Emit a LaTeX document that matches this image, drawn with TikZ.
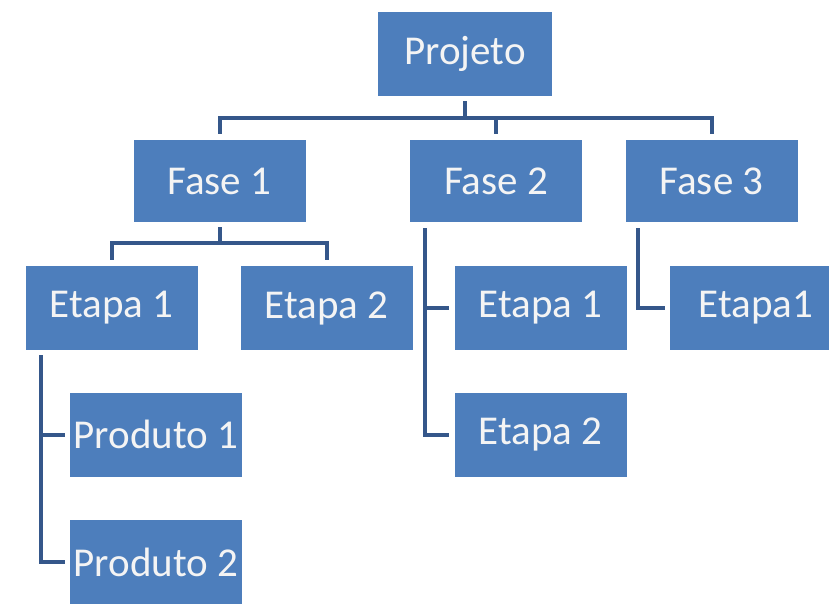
\documentclass[tikz,border=0pt]{standalone}
\usepackage{fontspec}
\setmainfont{Carlito}
\definecolor{boxblue}{HTML}{4D7EBC}
\definecolor{linkblue}{HTML}{35578A}
\definecolor{boxtext}{HTML}{F4F4F4}
\tikzset{
  wbsbox/.style={fill=boxblue, text=boxtext, minimum width=172pt, minimum height=84pt,
    inner sep=0pt, font=\fontsize{41}{41}\selectfont},
  conn/.style={draw=linkblue, line width=4pt, line cap=butt, line join=miter}
}
\begin{document}
\begin{tikzpicture}[x=1pt, y=-1pt]
\useasboundingbox (0,0) rectangle (829,604);
% boxes
\node[wbsbox, minimum width=174pt] (proj) at (465,54) {Projeto};
\node[wbsbox, minimum height=82pt] (f1) at (219.5,181) {Fase 1};
\node[wbsbox, minimum height=82pt] (f2) at (496,181) {Fase 2};
\node[wbsbox, minimum height=82pt] (f3) at (711.5,181) {Fase 3};
\node[wbsbox] (e11) at (111.5,308) {Etapa 1};
\node[wbsbox] (e12) at (326.5,308) {Etapa 2};
\node[wbsbox] (e21) at (540.5,308) {Etapa 1};
\node[wbsbox] (e31) at (756,308) {Etapa1};
\node[wbsbox] (e22) at (540.5,434.5) {Etapa 2};
\node[wbsbox] (p1) at (156,434.5) {Produto 1};
\node[wbsbox] (p2) at (156,562) {Produto 2};
% project level bus
\draw[conn, shorten <=5pt] (proj.south) -- ++(0,22);
\draw[conn, shorten <=6pt, shorten >=6pt] (f1.north) -- ++(0,-22) -| (f3.north);
\draw[conn, shorten >=6pt] (f2.north) ++(0,-22) -- (f2.north);
% Fase 1 branches
\draw[conn, shorten <=5pt] (f1.south) -- ++(0,21);
\draw[conn, shorten <=6pt, shorten >=6pt] (e11.north) -- ++(0,-23) -| (e12.north);
% Fase 2 side branches
\coordinate (f2x) at ([xshift=15pt]f2.south west);
\draw[conn, shorten <=6pt, shorten >=5pt] (f2x) |- (e22.west);
\draw[conn, shorten >=5pt] (f2x |- e21.west) -- (e21.west);
% Fase 3 side branch
\coordinate (f3x) at ([xshift=13pt]f3.south west);
\draw[conn, shorten <=6pt, shorten >=5pt] (f3x) |- (e31.west);
% Etapa 1 products
\coordinate (e11x) at ([xshift=16pt]e11.south west);
\draw[conn, shorten <=5pt, shorten >=5pt] (e11x) |- (p2.west);
\draw[conn, shorten >=5pt] (e11x |- p1.west) -- (p1.west);
\end{tikzpicture}
\end{document}
